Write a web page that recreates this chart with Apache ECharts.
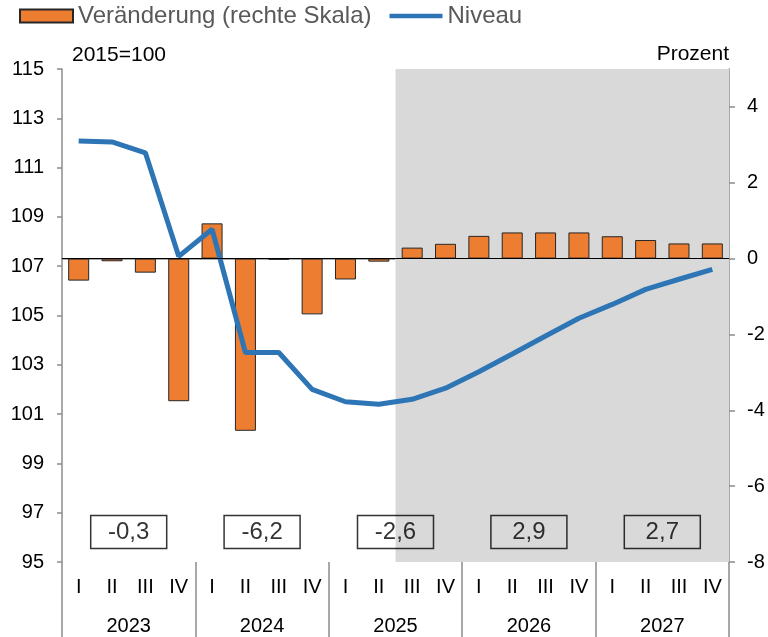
<!DOCTYPE html>
<html><head><meta charset="utf-8">
<script src="https://cdn.jsdelivr.net/npm/echarts@6/dist/echarts.min.js"></script>
<style>html,body{margin:0;padding:0;background:#fff}#c{width:768px;height:637px}</style>
</head><body><div id="c"></div>
<script>
// ---- data ----
const years = ['2023', '2024', '2025', '2026', '2027'];
const quarters = ['I', 'II', 'III', 'IV'];
// Veränderung gegenüber Vorquartal, Prozent (rechte Skala)
const veraenderung = [-0.58, -0.07, -0.37, -3.76, 0.93, -4.54, -0.03, -1.47, -0.55, -0.08,
                      0.29, 0.39, 0.60, 0.69, 0.69, 0.69, 0.59, 0.49, 0.40, 0.40];
// Niveau, 2015=100 (linke Skala)
const niveau = [112.08, 112.04, 111.6, 107.4, 108.5, 103.5, 103.5, 102.0, 101.5, 101.4,
                101.6, 102.05, 102.72, 103.44, 104.17, 104.89, 105.45, 106.06, 106.47, 106.87];
// Jahresveränderungsraten
const jahresrate = [-0.3, -6.2, -2.6, 2.9, 2.7];
const leftTicks = [95, 97, 99, 101, 103, 105, 107, 109, 111, 113, 115];
const rightTicks = [-8, -6, -4, -2, 0, 2, 4];
const forecastStart = 10; // first forecast quarter: 2025 III

const categories = [];
years.forEach(y => quarters.forEach(q => categories.push(q + '|' + y)));

const FONT = 'Liberation Sans, Arial, sans-serif';
const AXIS_GREY = '#8c8c8c';
const BOX_LEVEL = 96.22;

const chart = echarts.init(document.getElementById('c'), null, {renderer: 'canvas'});
chart.setOption({
  animation: false,
  backgroundColor: '#fff',
  textStyle: {fontFamily: FONT},
  legend: {
    left: 19, top: 4, padding: 0, itemWidth: 53, itemHeight: 13, itemGap: 18,
    symbolKeepAspect: true,
    textStyle: {fontSize: 24, color: '#595959', fontFamily: FONT},
    data: [
      {name: 'Veränderung (rechte Skala)', icon: 'rect'},
      {name: 'Niveau', icon: 'path://M0,0H56V5H0Z', itemStyle: {color: '#2e75b6', borderWidth: 0}}
    ]
  },
  grid: {left: 62, right: 39, top: 69, bottom: 75, containLabel: false, outerBoundsMode: 'none'},
  xAxis: [
    {
      type: 'category', data: categories, position: 'bottom',
      axisLine: {show: true, lineStyle: {color: AXIS_GREY, width: 1.5}},
      axisTick: {show: false},
      axisLabel: {interval: 0, margin: 15, fontSize: 20, color: '#000', fontFamily: FONT,
                  formatter: v => v.split('|')[0]},
      splitLine: {show: false}
    },
    {
      type: 'category', data: years, position: 'bottom',
      axisLine: {show: false},
      axisTick: {show: true, length: 80, lineStyle: {color: AXIS_GREY, width: 1.5}},
      axisLabel: {interval: 0, margin: 54, fontSize: 20, color: '#000', fontFamily: FONT},
      splitLine: {show: false}
    },
    {type: 'value', min: 0, max: categories.length, show: false}
  ],
  yAxis: [
    {
      type: 'value', min: 95, max: 115, position: 'left',
      name: '2015=100', nameLocation: 'end', nameGap: 14,
      nameTextStyle: {align: 'left', verticalAlign: 'middle', padding: [0, 0, 0, 10], fontSize: 21, color: '#000', fontFamily: FONT},
      axisLine: {show: true, lineStyle: {color: AXIS_GREY, width: 1.5}},
      axisTick: {show: true, length: 5, customValues: leftTicks, lineStyle: {color: AXIS_GREY, width: 1.5}},
      axisLabel: {margin: 18, fontSize: 20, color: '#000', fontFamily: FONT, customValues: leftTicks},
      splitLine: {show: false}
    },
    {
      type: 'value', min: -8, max: 5, position: 'right',
      name: 'Prozent', nameLocation: 'end', nameGap: 15,
      nameTextStyle: {align: 'right', verticalAlign: 'middle', fontSize: 21, color: '#000', fontFamily: FONT},
      axisLine: {show: true, lineStyle: {color: AXIS_GREY, width: 1.5}},
      axisTick: {show: true, length: 6, customValues: rightTicks, lineStyle: {color: AXIS_GREY, width: 1.5}},
      axisLabel: {margin: 18, fontSize: 20, color: '#000', fontFamily: FONT, customValues: rightTicks},
      splitLine: {show: false}
    }
  ],
  series: [
    {
      name: 'shade', type: 'line', xAxisIndex: 2, yAxisIndex: 0, data: [], z: 0, silent: true,
      markArea: {silent: true, itemStyle: {color: '#d9d9d9'},
        data: [[{xAxis: forecastStart}, {xAxis: categories.length}]]}
    },
    {
      name: 'Veränderung (rechte Skala)', type: 'bar', xAxisIndex: 0, yAxisIndex: 1,
      data: veraenderung, barWidth: 21, z: 2,
      itemStyle: {color: '#ed7d31', borderColor: '#262626', borderWidth: 1},
      markLine: {silent: true, symbol: 'none', label: {show: false},
        lineStyle: {color: '#000', width: 1, type: 'solid'}, data: [{yAxis: 0}]}
    },
    {
      name: 'Niveau', type: 'line', xAxisIndex: 0, yAxisIndex: 0, data: niveau,
      symbol: 'none', z: 3, lineStyle: {color: '#2e75b6', width: 5}, itemStyle: {color: '#2e75b6'}
    },
    {
      name: 'Jahresrate', type: 'scatter', xAxisIndex: 1, yAxisIndex: 0, z: 5,
      symbol: 'rect', symbolSize: 1, itemStyle: {color: 'rgba(0,0,0,0)'},
      data: jahresrate.map((v, i) => [years[i], BOX_LEVEL, v]),
      label: {
        show: true, position: 'inside',
        formatter: p => p.value[2].toFixed(1).replace('.', ','),
        fontSize: 24, color: '#000', fontFamily: FONT,
        width: 76, height: 33, lineHeight: 33, align: 'center', verticalAlign: 'middle',
        borderColor: '#000', borderWidth: 1.5, padding: 0
      }
    }
  ]
});
</script>
</body></html>
